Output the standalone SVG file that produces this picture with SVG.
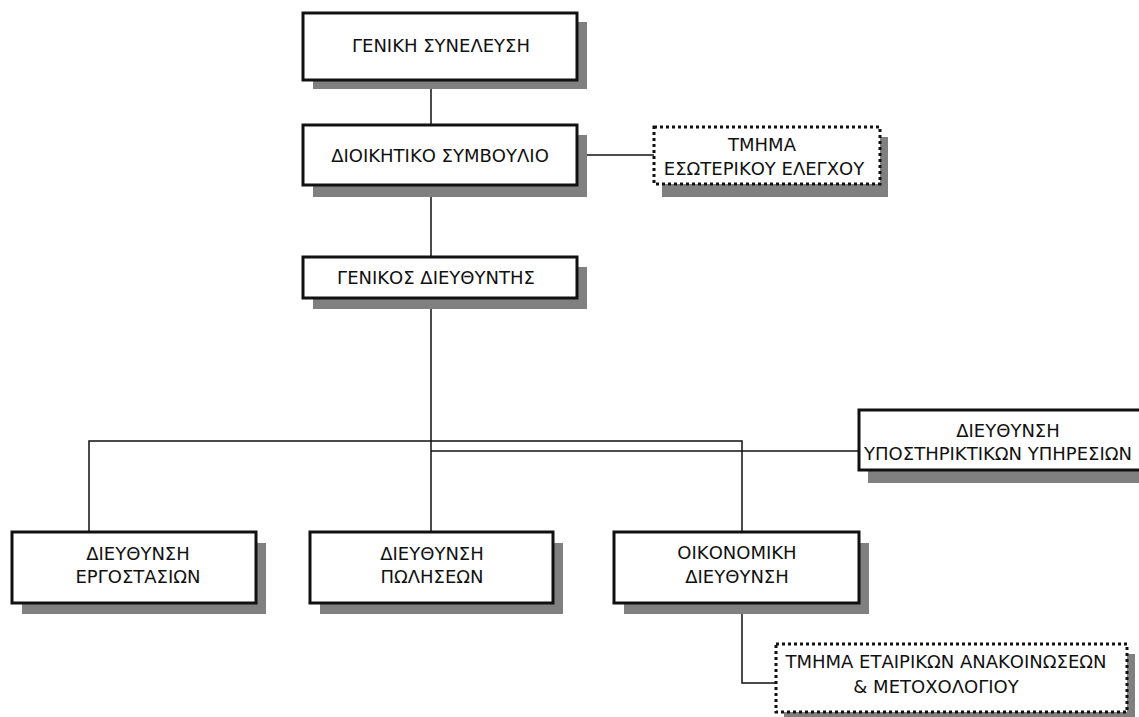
<svg xmlns="http://www.w3.org/2000/svg" width="1139" height="717" viewBox="0 0 1139 717">
<style>
.box{fill:#fff;stroke:#111;stroke-width:3}
.dbox{fill:#fff;stroke:#111;stroke-width:3;stroke-dasharray:3 3}
.sh{fill:#808080}
.ln{stroke:#111;stroke-width:1.5;fill:none}
text{font-family:"DejaVu Sans","Liberation Sans",sans-serif;font-size:18px;fill:#111;text-anchor:middle}
</style>
<rect width="1139" height="717" fill="#fff"/>
<g id="connectors">
<path class="ln" d="M431 80V125M431 185V257M431 298V532"/>
<path class="ln" d="M577 155H654"/>
<path class="ln" d="M89 532V441H742V532"/>
<path class="ln" d="M431 451H859"/>
<path class="ln" d="M742 603V683H776"/>
</g>
<g id="n1">
<rect class="sh" x="313" y="22" width="274" height="67"/>
<rect class="box" x="303" y="13" width="274" height="67"/>
<text x="441" y="52">ΓΕΝΙΚΗ ΣΥΝΕΛΕΥΣΗ</text>
</g>
<g id="n2">
<rect class="sh" x="313" y="135" width="274" height="62"/>
<rect class="box" x="303" y="125" width="274" height="60"/>
<text x="440" y="162">ΔΙΟΙΚΗΤΙΚΟ ΣΥΜΒΟΥΛΙΟ</text>
</g>
<g id="n3">
<rect class="sh" x="662" y="137" width="226" height="60"/>
<rect class="dbox" x="654" y="127" width="226" height="57"/>
<text x="762" y="151">ΤΜΗΜΑ</text>
<text x="764" y="175">ΕΣΩΤΕΡΙΚΟΥ ΕΛΕΓΧΟΥ</text>
</g>
<g id="n4">
<rect class="sh" x="313" y="267" width="274" height="42"/>
<rect class="box" x="303" y="257" width="274" height="41"/>
<text x="436" y="284">ΓΕΝΙΚΟΣ ΔΙΕΥΘΥΝΤΗΣ</text>
</g>
<g id="n5">
<rect class="sh" x="868" y="421" width="300" height="62"/>
<rect class="box" x="859" y="410" width="300" height="60"/>
<text x="1008" y="437">ΔΙΕΥΘΥΝΣΗ</text>
<text x="998" y="460">ΥΠΟΣΤΗΡΙΚΤΙΚΩΝ ΥΠΗΡΕΣΙΩΝ</text>
</g>
<g id="n6">
<rect class="sh" x="22" y="543" width="244" height="71"/>
<rect class="box" x="12" y="532" width="244" height="71"/>
<text x="138" y="560">ΔΙΕΥΘΥΝΣΗ</text>
<text x="138" y="583">ΕΡΓΟΣΤΑΣΙΩΝ</text>
</g>
<g id="n7">
<rect class="sh" x="320" y="543" width="243" height="71"/>
<rect class="box" x="310" y="532" width="243" height="71"/>
<text x="432" y="560">ΔΙΕΥΘΥΝΣΗ</text>
<text x="432" y="583">ΠΩΛΗΣΕΩΝ</text>
</g>
<g id="n8">
<rect class="sh" x="624" y="543" width="245" height="71"/>
<rect class="box" x="614" y="532" width="245" height="71"/>
<text x="737" y="559">ΟΙΚΟΝΟΜΙΚΗ</text>
<text x="737" y="583">ΔΙΕΥΘΥΝΣΗ</text>
</g>
<g id="n9">
<rect class="sh" x="784" y="654" width="351" height="63"/>
<rect class="dbox" x="776" y="644" width="351" height="68"/>
<text x="946" y="668">ΤΜΗΜΑ ΕΤΑΙΡΙΚΩΝ ΑΝΑΚΟΙΝΩΣΕΩΝ</text>
<text x="936" y="693">&amp; ΜΕΤΟΧΟΛΟΓΙΟΥ</text>
</g>
</svg>
